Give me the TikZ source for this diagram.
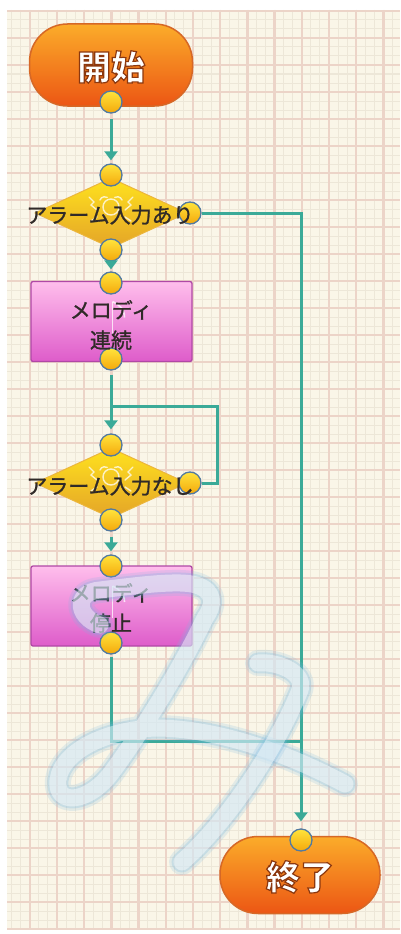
\documentclass[tikz,border=0pt]{standalone}
\usepackage{fontspec}
\usetikzlibrary{arrows.meta,shapes.geometric,calc}
\newfontfamily\jp{Noto Sans CJK JP}[FakeBold=1.2]
\newfontfamily\jpterm{Noto Sans CJK JP}[FakeBold=3.5]
\definecolor{bgcream}{RGB}{250,246,232}
\definecolor{gridminor}{RGB}{237,231,216}
\definecolor{gridmajor}{RGB}{236,212,200}
\definecolor{flowteal}{RGB}{58,170,152}
\definecolor{termTop}{RGB}{251,172,42}
\definecolor{termBot}{RGB}{236,86,20}
\definecolor{termEdge}{RGB}{214,104,38}
\definecolor{procTop}{RGB}{255,190,236}
\definecolor{procMid}{RGB}{247,160,226}
\definecolor{procBot}{RGB}{222,92,202}
\definecolor{procEdge}{RGB}{176,72,166}
\definecolor{decTop}{RGB}{255,226,30}
\definecolor{decBot}{RGB}{228,164,40}
\definecolor{decEdge}{RGB}{236,182,60}
\definecolor{dotTop}{RGB}{255,228,60}
\definecolor{dotBot}{RGB}{244,168,12}
\definecolor{dotEdge}{RGB}{82,122,160}
\definecolor{txtdark}{RGB}{48,42,40}
\definecolor{wmblue}{RGB}{120,185,225}
\newcommand\outlinedtext[1]{\special{pdf:bcolor [1 1 1] [0.55 0.22 0.06]}#1\special{pdf:ecolor}}
\tikzset{
  conn/.style={draw=flowteal, line width=3pt},
  arr/.style={conn, -{Triangle[width=13pt,length=9pt]}},
  dot/.style={circle, minimum size=22pt, inner sep=0pt, draw=dotEdge, line width=1.3pt, top color=dotTop, bottom color=dotBot},
  term/.style={rectangle, rounded corners=38pt, minimum width=163pt, minimum height=82pt, draw=termEdge, line width=1.5pt, top color=termTop, bottom color=termBot, inner sep=0pt},
  termtext/.style={font=\jpterm\bfseries\fontsize{34}{36}\selectfont, text=white},
  proc/.style={rectangle, rounded corners=2pt, minimum width=161pt, minimum height=80pt, draw=procEdge, line width=1.3pt, top color=procTop, middle color=procMid, bottom color=procBot, inner sep=0pt},
  proctext/.style={font=\jp\fontsize{21}{30}\selectfont, text=txtdark, align=center},
  dec/.style={diamond, minimum width=152pt, minimum height=70pt, inner sep=0pt, draw=decEdge, line width=1pt, top color=decTop, bottom color=decBot},
  dectext/.style={font=\jp\fontsize{21}{24}\selectfont, text=txtdark},
  icon/.style={draw=white, line width=1.4pt, opacity=0.75, line cap=round},
  wmstroke/.style={line cap=round, line join=round},
}
\def\wmone{(100,625) .. controls (76,617) and (74,592) .. (100,590) .. controls (140,585) and (180,580) .. (196,585) .. controls (216,591) and (214,606) .. (205,618) .. controls (185,660) and (150,720) .. (112,772) .. controls (88,804) and (55,806) .. (58,780) .. controls (62,750) and (110,728) .. (160,728) .. controls (230,730) and (300,760) .. (345,784)}
\def\wmtwo{(258,663) .. controls (276,661) and (306,672) .. (300,690) .. controls (280,740) and (232,818) .. (182,862)}
\begin{document}
\begin{tikzpicture}[x=1pt,y=-1pt]
\useasboundingbox (0,0) rectangle (400,934);
\fill[white] (0,0) rectangle (400,934);
% grid paper
\begin{scope}
  \clip (7,10) rectangle (400,930);
  \fill[bgcream] (7,10) rectangle (400,930);
  \foreach \i in {0,...,44} \draw[gridminor, line width=1pt] ({2.6+9.0667*\i},10) -- ({2.6+9.0667*\i},930);
  \foreach \i in {-3,...,99} \draw[gridminor, line width=1pt] (7,{38+9*\i}) -- (400,{38+9*\i});
  \foreach \i in {0,...,14} \draw[gridmajor, line width=2.4pt] ({2.6+27.2*\i},10) -- ({2.6+27.2*\i},930);
  \foreach \i in {-1,...,33} \draw[gridmajor, line width=2.4pt] (7,{38+27*\i}) -- (400,{38+27*\i});
\end{scope}

% shapes
\node[term] (s) at (111,65) {};
\node[dec] (d1) at (111,213) {};
\node[proc] (r1) at (111.5,321.5) {};
\node[dec] (d2) at (111,483) {};
\node[proc] (r2) at (111.5,606) {};
\node[term, minimum width=160pt, minimum height=77pt] (e) at (300,875) {};

% icons on diamonds
\foreach \c in {d1,d2}{
  \draw[icon] ($(\c)+(0,-6)$) circle (8);
  \draw[icon] ($(\c)+(-11,-13)$) arc (200:300:5);
  \draw[icon] ($(\c)+(11,-13)$) arc (-20:-120:5);
  \draw[icon] ($(\c)+(-22,-16)$) -- ++(5,5) -- ++(-3,3) -- ++(6,5);
  \draw[icon] ($(\c)+(22,-16)$) -- ++(-5,5) -- ++(3,3) -- ++(-6,5);
  \draw[icon] ($(\c)+(-20,8)$) -- ++(6,-4);
  \draw[icon] ($(\c)+(20,8)$) -- ++(-6,-4);
}
% music notes on process boxes
\foreach \c in {r1,r2}{
  \draw[white, opacity=0.75, line width=1.6pt] ($(\c)+(1,-20)$) -- ++(0,32);
  \draw[white, opacity=0.75, line width=1.6pt] ($(\c)+(1,-20)$) .. controls ++(8,4) and ++(0,-8) .. ++(12,16);
}

% dots
\node[dot] (s_b) at (111,102) {};
\node[dot] (d1_t) at (111,175) {};
\node[dot] (d1_r) at (190,213) {};
\node[dot] (d1_b) at (111,250) {};
\node[dot] (r1_t) at (111,283) {};
\node[dot] (r1_b) at (111,359) {};
\node[dot] (d2_t) at (111,445) {};
\node[dot] (d2_r) at (190,483) {};
\node[dot] (d2_b) at (111,520) {};
\node[dot] (r2_t) at (111,566) {};
\node[dot] (r2_b) at (111,643) {};
\node[dot] (e_t) at (301,840) {};

\coordinate (j1) at (111,406);
\coordinate (k1) at (217,483);
\coordinate (j2) at (301,741);

% connectors
\draw[arr, shorten <=5pt, shorten >=3pt] (s_b) -- (d1_t);
\draw[arr, shorten >=2pt] (d1_b) -- (r1_t);
\draw[arr, shorten <=4pt, shorten >=4pt] (r1_b) -- (d2_t);
\draw[arr, shorten <=5pt, shorten >=3pt] (d2_b) -- (r2_t);
\draw[arr, shorten >=7pt] (d1_r) -| (e_t);
\draw[conn] (d2_r) -- (k1) |- (j1);
\draw[conn, shorten <=2pt] (r2_b) |- (j2);

% texts
\node[termtext] (st) at (111,67) {\outlinedtext{開始}};
\node[termtext] (et) at (300,877) {\outlinedtext{終了}};
\node[dectext] (d1t) at (110,215) {アラーム入力あり};
\node[dectext] (d2t) at (110,486) {アラーム入力なし};
\node[proctext] (r1t) at (111,325) {メロディ\\連続};
\node[proctext] (r2t) at (111,608) {メロディ\\停止};

% watermark (translucent glowing stroke)
\foreach \p in {\wmone,\wmtwo}{
  \draw[wmstroke, wmblue, opacity=0.18, line width=26pt] \p;
  \draw[wmstroke, wmblue, opacity=0.25, line width=21pt] \p;
  \draw[wmstroke, white, opacity=0.45, line width=17pt] \p;
}
\end{tikzpicture}
\end{document}
